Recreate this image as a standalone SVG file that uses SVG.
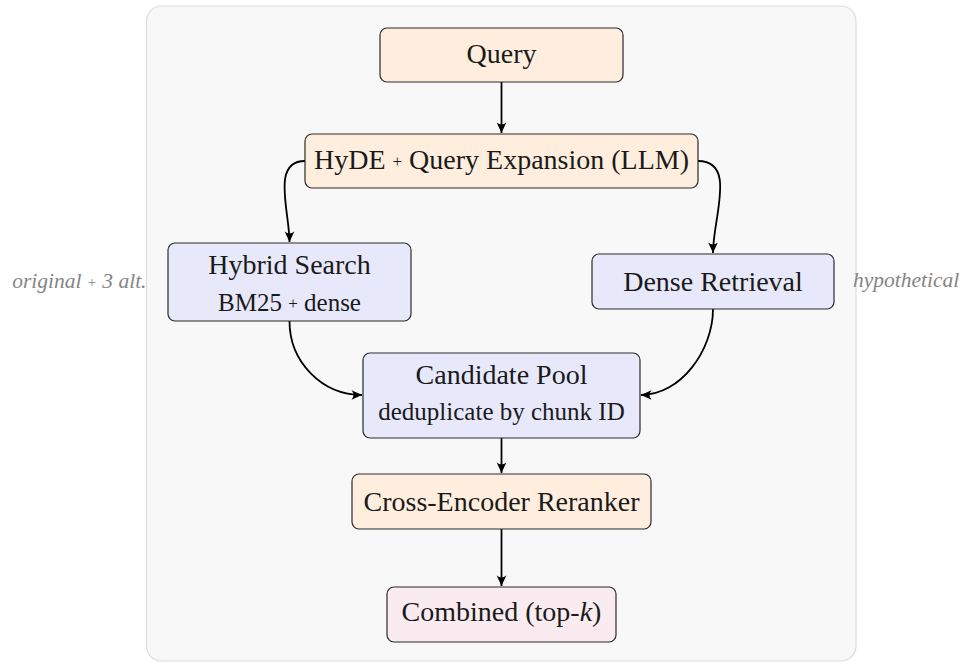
<svg xmlns="http://www.w3.org/2000/svg" width="971" height="662" viewBox="0 0 971 662">
  <style>
    .panel { fill: #f8f8f8; stroke: #dcdcdc; stroke-width: 1.2; }
    .node rect { stroke: #2a2a2a; stroke-width: 1.2; }
    .warm rect { fill: #ffeedd; }
    .cool rect { fill: #e8e8fb; }
    .out rect { fill: #f9ebf0; }
    .label { font-family: "Liberation Serif", "DejaVu Serif", serif; font-size: 28px; fill: #1a1a1a; text-anchor: middle; }
    .sub { font-size: 25px; }
    .plus { font-size: 17px; }
    .side { font-family: "Liberation Serif", "DejaVu Serif", serif; font-size: 21.5px; font-style: italic; fill: #858585; }
    .edge { fill: none; stroke: #000; stroke-width: 1.8; marker-end: url(#tip); }
  </style>
  <defs>
    <marker id="tip" viewBox="-12 -6 13 12" refX="0" refY="0" markerWidth="13" markerHeight="12" markerUnits="userSpaceOnUse" orient="auto">
      <path d="M0,0 L-10.5,-4.8 Q-6.5,0 -10.5,4.8 Z" fill="#000"/>
    </marker>
  </defs>

  <!-- background panel -->
  <rect class="panel" x="146.5" y="6" width="709.5" height="655" rx="15" ry="15"/>

  <!-- connectors -->
  <g id="edges">
    <path class="edge" d="M501.5,82 L501.5,133"/>
    <path class="edge" d="M305,161 C271,161 289.5,211 289.5,242"/>
    <path class="edge" d="M698,161 C737,161 713,217 713,253"/>
    <path class="edge" d="M289.5,321 C289.5,362 322,395 362,395"/>
    <path class="edge" d="M713,309 C713,350 681,395 641,395"/>
    <path class="edge" d="M501.5,438 L501.5,473"/>
    <path class="edge" d="M501.5,529 L501.5,586"/>
  </g>

  <!-- nodes -->
  <g id="query" class="node warm">
    <rect x="380" y="28" width="243" height="54" rx="7"/>
    <text class="label" x="501.5" y="63">Query</text>
  </g>
  <g id="hyde" class="node warm">
    <rect x="305" y="134" width="393" height="54" rx="7"/>
    <text class="label" x="501.5" y="169">HyDE <tspan class="plus" dy="-2">+</tspan><tspan dy="2"> Query Expansion (LLM)</tspan></text>
  </g>
  <g id="hybrid" class="node cool">
    <rect x="168" y="243" width="243" height="78" rx="7"/>
    <text class="label" x="289.5" y="274">Hybrid Search</text>
    <text class="label sub" x="289.5" y="311">BM25 <tspan class="plus" dy="-2">+</tspan><tspan dy="2"> dense</tspan></text>
  </g>
  <g id="dense" class="node cool">
    <rect x="592" y="254" width="242" height="55" rx="7"/>
    <text class="label" x="713" y="291">Dense Retrieval</text>
  </g>
  <g id="pool" class="node cool">
    <rect x="363" y="353" width="277" height="85" rx="7"/>
    <text class="label" x="501.5" y="384">Candidate Pool</text>
    <text class="label sub" x="501.5" y="420">deduplicate by chunk ID</text>
  </g>
  <g id="rerank" class="node warm">
    <rect x="352" y="474" width="299" height="55" rx="7"/>
    <text class="label" x="501.5" y="511">Cross-Encoder Reranker</text>
  </g>
  <g id="combined" class="node out">
    <rect x="387" y="587" width="229" height="55" rx="7"/>
    <text class="label" x="501.5" y="621">Combined (top-<tspan font-style="italic">k</tspan>)</text>
  </g>

  <!-- side annotations -->
  <text class="side" x="146.5" y="288" text-anchor="end">original <tspan font-size="15" dy="-1">+</tspan><tspan dy="1"> 3 alt.</tspan></text>
  <text class="side" x="853" y="287">hypothetical</text>
</svg>
